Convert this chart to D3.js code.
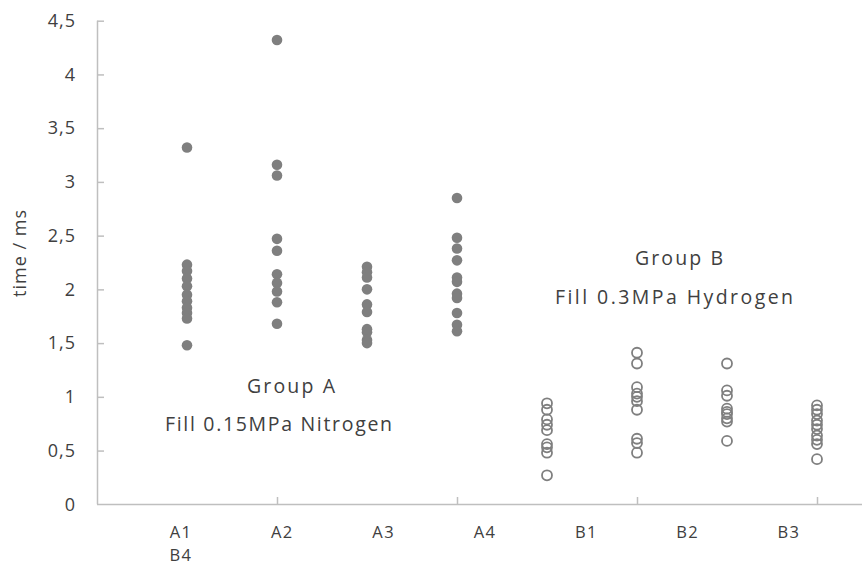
<!DOCTYPE html>
<html><head><meta charset="utf-8">
<script src="https://cdn.jsdelivr.net/npm/d3@7"></script>
<style>body{margin:0;background:#fff;} text{font-family:"Open Sans",sans-serif;fill:#404040;}</style>
</head><body><svg id="c" width="863" height="566"></svg>
<script>
const categories = ["A1","A2","A3","A4","B1","B2","B3","B4"];
const axisLabels = ["A1","A2","A3","A4","B1","B2","B3"];
const wrappedLabel = "B4";
const yTicks = [0,0.5,1,1.5,2,2.5,3,3.5,4,4.5];
const groupA = {
  A1:[3.32,2.23,2.17,2.10,2.03,1.95,1.89,1.83,1.78,1.73,1.48],
  A2:[4.32,3.16,3.06,2.47,2.36,2.14,2.06,1.98,1.88,1.68],
  A3:[2.21,2.16,2.11,2.00,1.86,1.79,1.63,1.60,1.53,1.50],
  A4:[2.85,2.48,2.38,2.27,2.11,2.07,1.96,1.92,1.78,1.67,1.61]
};
const groupB = {
  B1:[0.94,0.88,0.79,0.74,0.69,0.56,0.53,0.48,0.27],
  B2:[1.41,1.31,1.09,1.03,1.00,0.96,0.88,0.61,0.57,0.48],
  B3:[1.31,1.06,1.01,0.89,0.86,0.84,0.80,0.77,0.59],
  B4:[0.92,0.88,0.84,0.78,0.74,0.70,0.64,0.60,0.56,0.42]
};
const xTicks = [2,4,6,8];

const svg = d3.select("#c");
const x = d3.scaleLinear().domain([0,8.5]).range([97,862]);
const y = d3.scaleLinear().domain([0,4.5]).range([504.3,20.7]);
const labelX = d3.scalePoint().domain(axisLabels).range([181,789]);

const gy = svg.append("g").attr("transform","translate(97,0)")
  .call(d3.axisRight(y).tickValues(yTicks).tickSize(7).tickFormat(()=>""));
gy.selectAll("path,line").attr("stroke","#bfbfbf").attr("stroke-width",1.5);
gy.select(".domain").attr("d",`M0.5,${y(4.5)}V${y(0)}`);
gy.selectAll(".tick").filter(d=>d===0).remove();
svg.append("g").selectAll("text").data(yTicks).join("text")
  .attr("x",76).attr("y",d=>y(d)).attr("dy","0.35em").attr("text-anchor","end")
  .style("font-size","18px").style("letter-spacing","1px").text(d=>String(d).replace(".",","));

const gx = svg.append("g").attr("transform","translate(0,504)")
  .call(d3.axisTop(x).tickValues(xTicks).tickSize(7).tickFormat(()=>""));
gx.selectAll("path,line").attr("stroke","#bfbfbf").attr("stroke-width",1.5);
gx.select(".domain").attr("d",`M97,0.5H862`);

svg.append("g").selectAll("text").data(axisLabels).join("text")
  .attr("x",d=>labelX(d)).attr("y",532).attr("dy","0.35em").attr("text-anchor","middle")
  .style("font-size","16.5px").style("letter-spacing","1.4px").text(d=>d);
svg.append("text").attr("x",labelX("A1")).attr("y",555).attr("dy","0.35em")
  .attr("text-anchor","middle").style("font-size","16.5px").style("letter-spacing","1.4px").text(wrappedLabel);

svg.append("text").attr("transform","translate(20,253) rotate(-90)")
  .attr("text-anchor","middle").attr("dy","0.35em").style("font-size","18px")
  .style("letter-spacing","1px").text("time / ms");

const ptsA = Object.entries(groupA).flatMap(([k,vs])=>vs.map(v=>({k,v})));
const ptsB = Object.entries(groupB).flatMap(([k,vs])=>vs.map(v=>({k,v})));
const xi = k => x(categories.indexOf(k)+1);
svg.append("g").selectAll("circle").data(ptsA).join("circle")
  .attr("cx",d=>xi(d.k)).attr("cy",d=>y(d.v)).attr("r",5.3).attr("fill","#7f7f7f");
svg.append("g").selectAll("circle").data(ptsB).join("circle")
  .attr("cx",d=>xi(d.k)).attr("cy",d=>y(d.v)).attr("r",5).attr("fill","none")
  .attr("stroke","#7f7f7f").attr("stroke-width",1.8);

const ann = [
  {t:"Group A", x:291, y:386, w:88},
  {t:"Fill 0.15MPa Nitrogen", x:278.5, y:424, w:227},
  {t:"Group B", x:679, y:258, w:88},
  {t:"Fill 0.3MPa Hydrogen", x:674, y:297, w:238}
];
svg.append("g").selectAll("text").data(ann).join("text")
  .attr("x",d=>d.x - d.w/2).attr("y",d=>d.y).attr("dy","0.35em")
  .attr("textLength",d=>d.w).attr("lengthAdjust","spacing")
  .style("font-size","19.5px").text(d=>d.t);
</script></body></html>
